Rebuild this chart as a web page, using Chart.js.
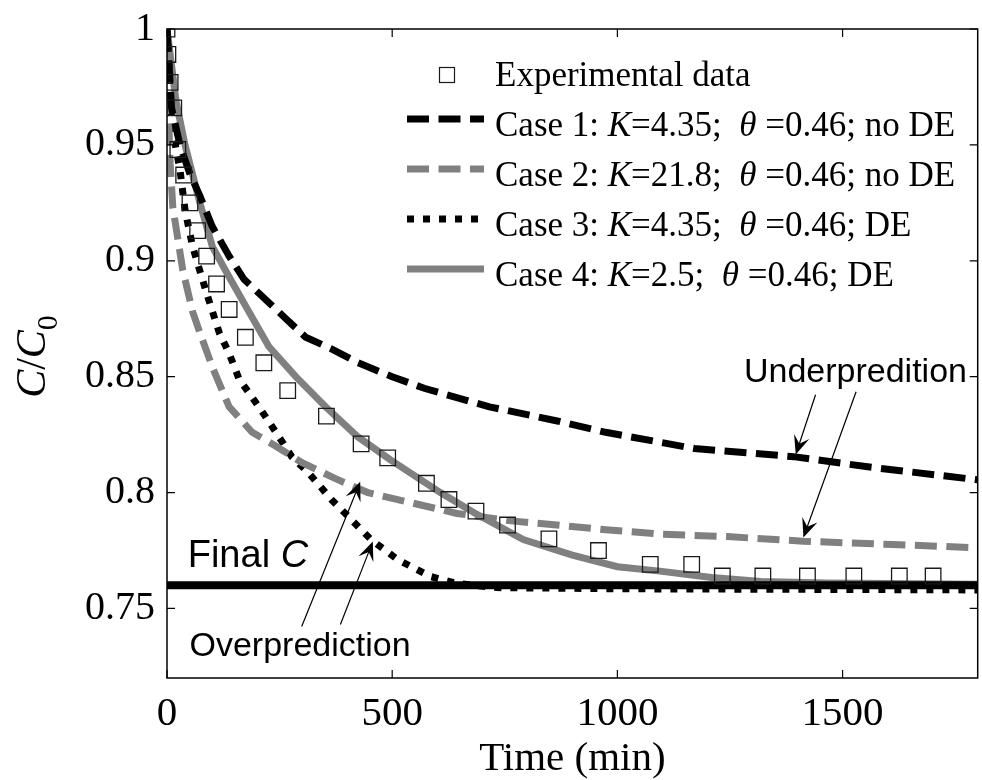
<!DOCTYPE html>
<html>
<head>
<meta charset="utf-8">
<script src="https://cdn.jsdelivr.net/npm/chart.js@4.4.1/dist/chart.umd.min.js"></script>
<style>
  html, body { margin: 0; padding: 0; overflow: hidden; background: #fff; }
  #wrap { width: 990px; height: 780px; }
</style>
</head>
<body>
<div id="wrap"><canvas id="c" width="990" height="780"></canvas></div>
<script>
// données
const expTime = [0, 2, 7, 15, 24, 37, 51, 68, 88, 110, 138, 174, 215, 268, 354, 431, 490, 576, 626, 686, 756, 848, 958, 1073, 1165, 1233, 1323, 1422, 1525, 1626, 1701];
const expC    = [1.000, 0.989, 0.977, 0.966, 0.948, 0.937, 0.925, 0.913, 0.902, 0.890, 0.879, 0.867, 0.856, 0.844, 0.833, 0.821, 0.815, 0.804, 0.797, 0.792, 0.786, 0.780, 0.775, 0.769, 0.769, 0.764, 0.764, 0.764, 0.764, 0.764, 0.764];

const case1Time = [0, 10, 30, 50, 73, 100, 138, 171, 204, 264, 308, 365, 424, 500, 571, 716, 864, 974, 1171, 1391, 1560, 1800];
const case1C    = [1, 0.966, 0.949, 0.938, 0.928, 0.915, 0.902, 0.892, 0.886, 0.875, 0.867, 0.862, 0.856, 0.850, 0.845, 0.837, 0.831, 0.826, 0.819, 0.8155, 0.811, 0.8055];

const case2Time = [0, 3, 7, 13, 22, 35, 57, 73, 101, 138, 189, 242, 299, 374, 446, 534, 644, 754, 974, 1099, 1244, 1413, 1611, 1800];
const case2C    = [1, 0.965, 0.942, 0.923, 0.912, 0.896, 0.878, 0.869, 0.854, 0.837, 0.826, 0.820, 0.813, 0.806, 0.800, 0.796, 0.791, 0.788, 0.784, 0.782, 0.781, 0.779, 0.7776, 0.7762];

const case3Time = [0, 11, 29, 40, 57, 88, 116, 138, 160, 204, 242, 277, 314, 365, 409, 453, 512, 585, 644, 732, 1000, 1800];
const case3C    = [1, 0.958, 0.939, 0.922, 0.906, 0.886, 0.869, 0.860, 0.849, 0.837, 0.826, 0.8155, 0.8086, 0.797, 0.7884, 0.7797, 0.7711, 0.7638, 0.7608, 0.759, 0.7585, 0.758];

const case4Time = [0, 20, 40, 73, 101, 138, 176, 226, 286, 352, 424, 497, 607, 681, 791, 900, 1000, 1099, 1209, 1319, 1464, 1800];
const case4C    = [1, 0.969, 0.950, 0.925, 0.906, 0.893, 0.880, 0.863, 0.850, 0.837, 0.824, 0.814, 0.800, 0.7914, 0.7797, 0.773, 0.768, 0.766, 0.7634, 0.7616, 0.761, 0.7605];

const finalTime = [0, 1800];
const finalC    = [0.76, 0.76];

const caseK  = ['4.35', '21.8', '4.35', '2.5'];
const caseDE = ['no DE', 'no DE', 'DE', 'DE'];
const theta  = '0.46';

const xTicks = [0, 500, 1000, 1500];
const yTicks = [0.75, 0.8, 0.85, 0.9, 0.95, 1];

const pts = (xs, ys) => xs.map((x, i) => ({ x, y: ys[i] }));

const SERIF = 'Liberation Serif';
const SANS  = 'Liberation Sans';
const GRAY  = '#808080';

const lineDs = (label, xs, ys, color, dash, width) => ({
  label, data: pts(xs, ys), showLine: true, borderColor: color, borderWidth: width,
  borderDash: dash, borderCapStyle: 'butt', borderJoinStyle: 'miter',
  pointRadius: 0, tension: 0, fill: false,
});

// séries du graphique (index 0 dessiné en dernier)
const datasets = [
  { label: 'Experimental data', data: pts(expTime, expC), pointStyle: 'rect', pointRadius: 11,
    pointBorderColor: '#1a1a1a', pointBorderWidth: 1.3, pointBackgroundColor: 'rgba(0,0,0,0)', showLine: false },
  lineDs('Final C', finalTime, finalC, '#000', [], 8),
  lineDs('Case 1', case1Time, case1C, '#000', [22, 9.5], 7),
  lineDs('Case 2', case2Time, case2C, GRAY, [22, 9.5], 7),
  lineDs('Case 3', case3Time, case3C, '#000', [7, 9], 7),
  lineDs('Case 4', case4Time, case4C, GRAY, [], 7),
];

// annotations (coordonnées en unités de données)
const notes = [
  { text: 'Underpredition', x: 1281, y: 0.8478, size: 34 },
  { text: 'Overprediction', x: 50, y: 0.7293, size: 34 },
];
const arrows = [
  [1440, 0.8422, 1396, 0.8164],
  [1530, 0.8435, 1413, 0.7806],
  [299, 0.7422, 429, 0.8047],
  [385, 0.7431, 457, 0.7789],
];

function fontOf(style, size) {
  const it = style === 'i' || style === 'sansi' ? 'italic ' : '';
  const fam = style === 'sans' || style === 'sansi' ? SANS : SERIF;
  return `${it}${size}px "${fam}"`;
}
function drawRuns(ctx, x, y, runs) {
  runs.forEach(([txt, style, size, dy]) => {
    ctx.font = fontOf(style, size);
    ctx.fillText(txt, x, y + (dy || 0));
    x += ctx.measureText(txt).width;
  });
  return x;
}
function runsWidth(ctx, runs) {
  let w = 0;
  runs.forEach(([txt, style, size]) => {
    ctx.font = fontOf(style, size);
    w += ctx.measureText(txt).width;
  });
  return w;
}

function arrow(ctx, x0, y0, x1, y1) {
  const dx = x1 - x0, dy = y1 - y0, d = Math.hypot(dx, dy);
  const ux = dx / d, uy = dy / d, nx = -uy, ny = ux;
  const L = 19, W = 8;
  ctx.beginPath();
  ctx.moveTo(x0, y0);
  ctx.lineTo(x1 - ux * L * 0.6, y1 - uy * L * 0.6);
  ctx.lineWidth = 1.2;
  ctx.stroke();
  ctx.beginPath();
  ctx.moveTo(x1, y1);
  ctx.lineTo(x1 - ux * L + nx * W, y1 - uy * L + ny * W);
  ctx.lineTo(x1 - ux * L * 0.6, y1 - uy * L * 0.6);
  ctx.lineTo(x1 - ux * L - nx * W, y1 - uy * L - ny * W);
  ctx.closePath();
  ctx.fill();
}

const framePlugin = {
  id: 'frame',
  afterDatasetsDraw(chart) {
    const { ctx, chartArea: a, scales: { x, y } } = chart;
    ctx.save();
    ctx.strokeStyle = '#000';
    ctx.fillStyle = '#000';
    ctx.lineWidth = 1.5;
    ctx.strokeRect(a.left, a.top, a.right - a.left, a.bottom - a.top);
    const tl = 8;
    ctx.beginPath();
    xTicks.forEach(v => {
      const px = x.getPixelForValue(v);
      ctx.moveTo(px, a.bottom); ctx.lineTo(px, a.bottom - tl);
      ctx.moveTo(px, a.top); ctx.lineTo(px, a.top + tl);
    });
    yTicks.forEach(v => {
      const py = y.getPixelForValue(v);
      ctx.moveTo(a.left, py); ctx.lineTo(a.left + tl, py);
      ctx.moveTo(a.right, py); ctx.lineTo(a.right - tl, py);
    });
    ctx.lineWidth = 1.2;
    ctx.stroke();

    // annotations
    ctx.textBaseline = 'alphabetic';
    ctx.textAlign = 'left';
    notes.forEach(n => {
      ctx.font = `${n.size}px "${SANS}"`;
      ctx.fillText(n.text, x.getPixelForValue(n.x), y.getPixelForValue(n.y));
    });
    drawRuns(ctx, x.getPixelForValue(46), y.getPixelForValue(0.7681), [['Final ', 'sans', 38], ['C', 'sansi', 38]]);
    arrows.forEach(([a0, b0, a1, b1]) => arrow(ctx, x.getPixelForValue(a0), y.getPixelForValue(b0), x.getPixelForValue(a1), y.getPixelForValue(b1)));

    // légende
    const lx0 = 407, lx1 = 484, tx = 495, base0 = 86, step = 50;
    ctx.lineWidth = 1.2;
    ctx.strokeStyle = '#1a1a1a';
    ctx.strokeRect(447 - 7.5, base0 - 11 - 7.5, 15, 15);
    ctx.font = `35px "${SERIF}"`;
    ctx.fillText(datasets[0].label, tx, base0);
    for (let i = 0; i < 4; i++) {
      const ds = datasets[i + 2];
      const by = base0 + step * (i + 1);
      ctx.beginPath();
      ctx.setLineDash(ds.borderDash);
      ctx.lineCap = 'butt';
      ctx.strokeStyle = ds.borderColor;
      ctx.lineWidth = ds.borderWidth;
      ctx.moveTo(lx0, by - 17);
      ctx.lineTo(lx1, by - 17);
      ctx.stroke();
      ctx.setLineDash([]);
      ctx.fillStyle = '#000';
      drawRuns(ctx, tx, by, [
        [`${ds.label}: `, 'n', 35], ['K', 'i', 35], [`=${caseK[i]};  `, 'n', 35],
        ['θ', 'i', 35], [` =${theta}; ${caseDE[i]}`, 'n', 35],
      ]);
    }

    // titres des axes
    ctx.fillStyle = '#000';
    ctx.font = `41px "${SERIF}"`;
    ctx.textAlign = 'center';
    ctx.fillText('Time (min)', (a.left + a.right) / 2, 770);
    ctx.textAlign = 'left';
    const yRuns = [['C', 'i', 42], ['/', 'n', 42], ['C', 'i', 42], ['0', 'n', 30, 12]];
    const w = runsWidth(ctx, yRuns);
    ctx.translate(45, (a.top + a.bottom) / 2 + 3 + w / 2);
    ctx.rotate(-Math.PI / 2);
    drawRuns(ctx, 0, 0, yRuns);
    ctx.restore();
  },
};

const noPad = s => { s.paddingTop = 0; s.paddingBottom = 0; s.paddingLeft = 0; s.paddingRight = 0; };

new Chart(document.getElementById('c'), {
  type: 'scatter',
  data: { datasets },
  options: {
    responsive: false, devicePixelRatio: 1, animation: false, events: [],
    layout: { padding: { top: 29, right: 4, left: 0, bottom: 0 } },
    plugins: { legend: { display: false }, tooltip: { enabled: false } },
    scales: {
      x: {
        type: 'linear', min: 0, max: 1800,
        afterBuildTicks: s => { s.ticks = xTicks.map(v => ({ value: v })); },
        afterFit: s => { s.height = 102; noPad(s); },
        grid: { display: false, drawTicks: false }, border: { display: false },
        ticks: { color: '#000', padding: 12, maxRotation: 0, font: { family: SERIF, size: 41 }, callback: v => String(v) },
      },
      y: {
        type: 'linear', min: 0.72, max: 1,
        afterBuildTicks: s => { s.ticks = yTicks.map(v => ({ value: v })); },
        afterFit: s => { s.width = 167; noPad(s); },
        grid: { display: false, drawTicks: false }, border: { display: false },
        ticks: { color: '#000', padding: 12, font: { family: SERIF, size: 40 }, callback: v => String(v) },
      },
    },
  },
  plugins: [framePlugin],
});
</script>
</body>
</html>
